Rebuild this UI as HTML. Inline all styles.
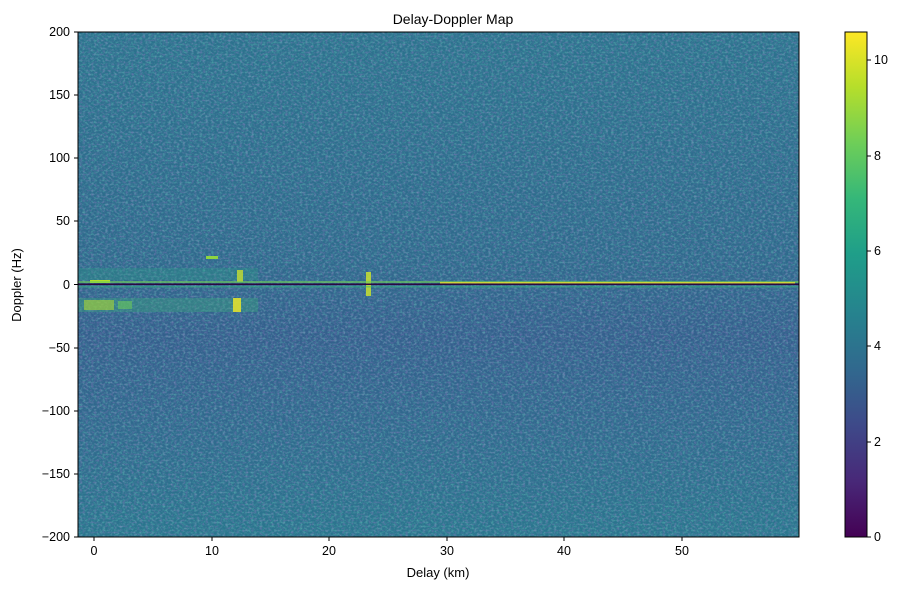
<!DOCTYPE html>
<html><head><style>
body{margin:0;background:#fff;font-family:"Liberation Sans","DejaVu Sans",sans-serif;}
</style></head><body>
<svg width="907" height="590" xmlns="http://www.w3.org/2000/svg" font-family="Liberation Sans, DejaVu Sans, sans-serif" font-size="12.5">
<defs>
<linearGradient id="vir" x1="0" y1="1" x2="0" y2="0">
<stop offset="0" stop-color="#440154"/><stop offset="0.11" stop-color="#482878"/>
<stop offset="0.22" stop-color="#3e4989"/><stop offset="0.33" stop-color="#31688e"/>
<stop offset="0.44" stop-color="#26828e"/><stop offset="0.56" stop-color="#1f9e89"/>
<stop offset="0.67" stop-color="#35b779"/><stop offset="0.78" stop-color="#6ece58"/>
<stop offset="0.89" stop-color="#b5de2b"/><stop offset="1" stop-color="#fde725"/>
</linearGradient>
<linearGradient id="bg" x1="0" y1="0" x2="0" y2="1">
<stop offset="0" stop-color="#2c738e"/><stop offset="0.45" stop-color="#2f6a8d"/>
<stop offset="0.6" stop-color="#34608d"/><stop offset="0.75" stop-color="#31688e"/>
<stop offset="1" stop-color="#2a768e"/>
</linearGradient>
<filter id="n" x="0" y="0" width="100%" height="100%">
<feTurbulence type="fractalNoise" baseFrequency="0.35 0.5" numOctaves="2" seed="3"/>
<feColorMatrix type="matrix" values="0 0 0 0 0.15  0 0 0 0 0.58  0 0 0 0 0.52  0 0 0 1.8 -0.82"/>
</filter>
<filter id="n2" x="0" y="0" width="100%" height="100%">
<feTurbulence type="fractalNoise" baseFrequency="0.35 0.5" numOctaves="2" seed="9"/>
<feColorMatrix type="matrix" values="0 0 0 0 0.26  0 0 0 0 0.2  0 0 0 0 0.52  0 0 0 1.8 -0.82"/>
</filter>
</defs>
<rect x="78" y="32" width="721" height="505" fill="url(#bg)"/>
<rect x="78" y="32" width="721" height="505" filter="url(#n)" opacity="0.7"/>
<rect x="78" y="32" width="721" height="505" filter="url(#n2)" opacity="0.7"/>
<g>
<rect x="78" y="268" width="180" height="12" fill="#2a9a88" opacity="0.35"/>
<rect x="78" y="298" width="180" height="14" fill="#3aa57f" opacity="0.4"/>
<rect x="84" y="300" width="30" height="10" fill="#b5de2b" opacity="0.55"/>
<rect x="118" y="301" width="14" height="8" fill="#6ece58" opacity="0.55"/>
<rect x="233" y="298" width="8" height="14" fill="#e0e030" opacity="0.9"/>
<rect x="237" y="270" width="6" height="12" fill="#c8e030" opacity="0.8"/>
<rect x="206" y="256" width="12" height="3" fill="#8ed540"/>
<rect x="366" y="272" width="5" height="24" fill="#c8e030" opacity="0.85"/>
<rect x="90" y="280" width="20" height="3" fill="#b5de2b"/>
<rect x="78" y="281" width="721" height="2" fill="#6ece58" opacity="0.6"/>
<rect x="440" y="282" width="355" height="2" fill="#fde725" opacity="0.7"/>
<rect x="78" y="286" width="721" height="1.5" fill="#35b779" opacity="0.5"/>
<rect x="78" y="283.5" width="721" height="1.5" fill="#2a0a40"/>
</g>
<rect x="78" y="32" width="721" height="505" fill="none" stroke="#000" stroke-width="1"/>
<text x="453" y="24" text-anchor="middle" font-size="14">Delay-Doppler Map</text>
<g stroke="#000">
<line x1="94" y1="537" x2="94" y2="541"/><line x1="212" y1="537" x2="212" y2="541"/>
<line x1="329" y1="537" x2="329" y2="541"/><line x1="447" y1="537" x2="447" y2="541"/>
<line x1="564" y1="537" x2="564" y2="541"/><line x1="682" y1="537" x2="682" y2="541"/>
<line x1="74" y1="32" x2="78" y2="32"/><line x1="74" y1="95" x2="78" y2="95"/>
<line x1="74" y1="158" x2="78" y2="158"/><line x1="74" y1="221" x2="78" y2="221"/>
<line x1="74" y1="284.5" x2="78" y2="284.5"/><line x1="74" y1="348" x2="78" y2="348"/>
<line x1="74" y1="411" x2="78" y2="411"/><line x1="74" y1="474" x2="78" y2="474"/>
<line x1="74" y1="537" x2="78" y2="537"/>
</g>
<g text-anchor="middle">
<text x="94" y="555">0</text><text x="212" y="555">10</text><text x="329" y="555">20</text>
<text x="447" y="555">30</text><text x="564" y="555">40</text><text x="682" y="555">50</text>
<text x="438" y="577" font-size="13">Delay (km)</text>
</g>
<g text-anchor="end">
<text x="70" y="36">200</text><text x="70" y="99">150</text><text x="70" y="162">100</text>
<text x="70" y="225">50</text><text x="70" y="289">0</text><text x="70" y="352">−50</text>
<text x="70" y="415">−100</text><text x="70" y="478">−150</text><text x="70" y="541">−200</text>
</g>
<text transform="translate(21,285) rotate(-90)" text-anchor="middle" font-size="13">Doppler (Hz)</text>
<rect x="845" y="32" width="22" height="505" fill="url(#vir)" stroke="#000" stroke-width="1"/>
<g stroke="#000">
<line x1="867" y1="537" x2="871" y2="537"/><line x1="867" y1="442" x2="871" y2="442"/>
<line x1="867" y1="346" x2="871" y2="346"/><line x1="867" y1="251" x2="871" y2="251"/>
<line x1="867" y1="156" x2="871" y2="156"/><line x1="867" y1="60" x2="871" y2="60"/>
</g>
<g>
<text x="874" y="541">0</text><text x="874" y="446">2</text><text x="874" y="350">4</text>
<text x="874" y="255">6</text><text x="874" y="160">8</text><text x="874" y="64">10</text>
</g>
</svg>
</body></html>
